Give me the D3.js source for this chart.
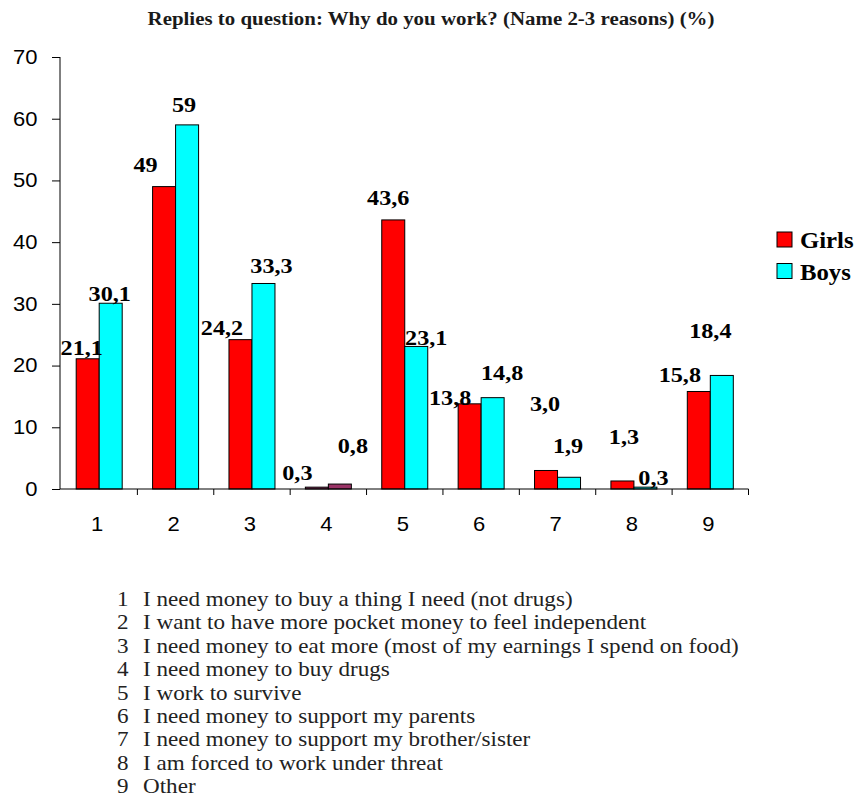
<!DOCTYPE html>
<html>
<head>
<meta charset="utf-8">
<script src="https://cdn.jsdelivr.net/npm/d3@7"></script>
<style>
  html, body { margin: 0; padding: 0; background: #fff; }
  svg { display: block; }
</style>
</head>
<body>
<svg id="chart" width="857" height="807"></svg>
<script>
// ---------- data ----------
const categories = ["1", "2", "3", "4", "5", "6", "7", "8", "9"];
const seriesNames = ["Girls", "Boys"];
const girls = [21.1, 49, 24.2, 0.3, 43.6, 13.8, 3.0, 1.3, 15.8];
const boys  = [30.1, 59, 33.3, 0.8, 23.1, 14.8, 1.9, 0.3, 18.4];
const decimals = [1, 0, 1, 1, 1, 1, 1, 1, 1];
const yTicks = [0, 10, 20, 30, 40, 50, 60, 70];
const title = "Replies to question: Why do you work? (Name 2-3 reasons) (%)";
const reasons = [
  "I need money to buy a thing I need (not drugs)",
  "I want to have more pocket money to feel independent",
  "I need money to eat more (most of my earnings I spend on food)",
  "I need money to buy drugs",
  "I work to survive",
  "I need money to support my parents",
  "I need money to support my brother/sister",
  "I am forced to work under threat",
  "Other"
];

// ---------- styles / layout ----------
const colors = { Girls: "#FF0000", Boys: "#00FFFF" };
const specialFill = { "4": "#993366" };
const SX = 1.1; // horizontal text stretch of the reference
const serif = "'Times New Roman', 'Liberation Serif', serif";
const sans = "Arial, 'Liberation Sans', sans-serif";
// manual data-label nudges (px) relative to bar centre / bar top
const labelNudge = {
  Girls: { dx: [-6, -18.5, -18.5, -19.5, -5, -19.5, -1, 1.5, -19],
           dy: [-4, -15, -5, -7, -15, 1, -59.5, -37, -9.5] },
  Boys:  { dx: [-1, -3, 8, 13, 10, 9.5, -1, 8, -11.5],
           dy: [-2, -13, -10.5, -31, -1.5, -17.7, -24, -2, -37.5] }
};

const svg = d3.select("#chart");
const plotLeft = 60, plotRight = 748.5, plotTop = 57, plotBottom = 489;

const x = d3.scaleBand().domain(categories).range([plotLeft + 1, plotRight]).padding(0);
const xs = d3.scaleBand().domain(seriesNames).range([-23, 23]).padding(0);
const y = d3.scaleLinear().domain([0, 70]).range([plotBottom, plotTop]);

const seriesData = { Girls: girls, Boys: boys };

function stretchText(sel) {
  sel.attr("transform", function () {
    const t = d3.select(this);
    const tx = +t.attr("data-x") || 0, ty = +t.attr("data-y") || 0;
    return `translate(${tx},${ty}) scale(${SX},1)`;
  });
}

// title
svg.append("text")
  .attr("data-x", 431).attr("data-y", 25)
  .attr("text-anchor", "middle")
  .attr("font-family", serif).attr("font-weight", "bold")
  .attr("font-size", 19).attr("fill", "#1a1a1a")
  .text(title)
  .call(stretchText);

// y axis
const yAxis = d3.axisLeft(y).tickValues(yTicks).tickSize(8).tickPadding(11).tickFormat(d3.format("d"));
const gy = svg.append("g").attr("transform", `translate(${plotLeft},0)`).call(yAxis);
gy.select(".domain").attr("stroke", "#000").attr("d", `M0,${plotTop}V${plotBottom}`);
gy.selectAll(".tick line").attr("stroke", "#000");
gy.selectAll(".tick text")
  .attr("font-family", sans).attr("font-size", 20).attr("fill", "#000")
  .attr("transform", `scale(${SX},1)`)
  .attr("x", -20.5);

// bars
const gBars = svg.append("g");
seriesNames.forEach(s => {
  gBars.selectAll(null)
    .data(categories.map((c, i) => ({ c, i, v: seriesData[s][i] })))
    .enter().append("rect")
    .attr("x", d => x(d.c) + x.bandwidth() / 2 + xs(s))
    .attr("width", xs.bandwidth())
    .attr("y", d => y(d.v))
    .attr("height", d => y(0) - y(d.v))
    .attr("fill", d => specialFill[d.c] || colors[s])
    .attr("stroke", "#000").attr("stroke-width", 1);
});

// x axis
const gx = svg.append("g").attr("transform", `translate(0,${plotBottom})`);
gx.append("line").attr("x1", plotLeft).attr("x2", plotRight).attr("stroke", "#000");
const bounds = categories.map(c => x(c)).concat([x(categories[categories.length - 1]) + x.bandwidth()]);
gx.selectAll(".btick").data(bounds.slice(1)).enter().append("line")
  .attr("x1", d => d).attr("x2", d => d).attr("y1", 0).attr("y2", 6).attr("stroke", "#000");
const xAxis = d3.axisBottom(x).tickSize(0).tickPadding(0);
const gxl = svg.append("g").attr("transform", `translate(-2,${plotBottom})`).call(xAxis);
gxl.select(".domain").remove();
gxl.selectAll(".tick text")
  .attr("font-family", sans).attr("font-size", 20).attr("fill", "#000")
  .attr("y", 42).attr("dy", 0)
  .attr("transform", `scale(${SX},1)`);

// data labels
const fmt = (v, d) => d3.format(`.${d}f`)(v).replace(".", ",");
seriesNames.forEach(s => {
  svg.append("g").selectAll("text")
    .data(categories.map((c, i) => ({ c, i, v: seriesData[s][i] })))
    .enter().append("text")
    .attr("data-x", d => x(d.c) + x.bandwidth() / 2 + xs(s) + xs.bandwidth() / 2 + labelNudge[s].dx[d.i])
    .attr("data-y", d => y(d.v) + labelNudge[s].dy[d.i])
    .attr("text-anchor", "middle")
    .attr("font-family", serif).attr("font-weight", "bold")
    .attr("font-size", 22).attr("fill", "#000")
    .text(d => fmt(d.v, decimals[d.i]))
    .call(stretchText);
});

// legend
const legend = svg.append("g");
seriesNames.forEach((s, i) => {
  legend.append("rect")
    .attr("x", 777).attr("y", 232 + i * 31.5).attr("width", 15).attr("height", 15)
    .attr("fill", colors[s]).attr("stroke", "#000").attr("stroke-width", 1);
  legend.append("text")
    .attr("data-x", 800).attr("data-y", 248 + i * 31.5)
    .attr("font-family", serif).attr("font-weight", "bold")
    .attr("font-size", 22.5).attr("fill", "#000")
    .text(s)
    .call(stretchText);
});

// reasons list
const list = svg.append("g");
reasons.forEach((r, i) => {
  list.append("text")
    .attr("data-x", 117).attr("data-y", 606 + i * 23.4)
    .attr("font-family", serif).attr("font-size", 21).attr("fill", "#222")
    .text(categories[i])
    .call(stretchText);
  list.append("text")
    .attr("data-x", 143).attr("data-y", 606 + i * 23.4)
    .attr("font-family", serif).attr("font-size", 21).attr("fill", "#222")
    .text(r)
    .call(stretchText);
});
</script>
</body>
</html>
